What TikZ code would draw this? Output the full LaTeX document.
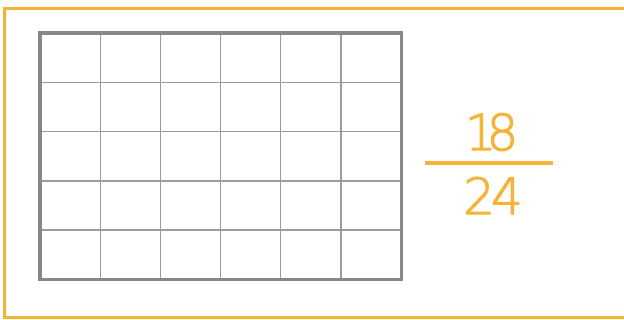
\documentclass[tikz,border=0pt]{standalone}
\usepackage{fontspec}
\newfontfamily\digfont[FakeBold=2]{DejaVu Sans ExtraLight}
\definecolor{borange}{RGB}{245,180,55}
\definecolor{gridouter}{RGB}{136,136,136}
\definecolor{gridinner}{RGB}{155,155,155}
\begin{document}
\begin{tikzpicture}[x=1pt,y=-1pt,
  frame/.style={draw=borange,line width=3pt},
  outerbox/.style={draw=gridouter,line width=3.4pt},
  innerline/.style={draw=gridinner,line width=1.4pt},
  numtext/.style={text=borange,font=\digfont\fontsize{50}{50}\selectfont,inner sep=0pt,anchor=center},
  fracbar/.style={draw=borange,line width=3.2pt}]
\useasboundingbox (0,0) rectangle (624,320);
\fill[white] (0,0) rectangle (624,320);
\draw[frame] (4,9) rectangle (630,318);
% grid
\foreach \x in {100.2,160.3,220.5,280.7,340.8}
  \draw[innerline] (\x,33) -- (\x,279.5);
\foreach \y in {82.3,131.6,180.9,230.2}
  \draw[innerline] (40,\y) -- (401.5,\y);
\draw[outerbox] (40,33) rectangle (401.5,279.5);
% fraction
\node[numtext] (num) at (491.5,132) {1\kern-10pt 8};
\node[numtext] (den) at (493,195.5) {2\kern-4pt 4};
\coordinate (barL) at (425,163);
\coordinate (barR) at (553,163);
\draw[fracbar] (barL) -- (barR);
\end{tikzpicture}
\end{document}
